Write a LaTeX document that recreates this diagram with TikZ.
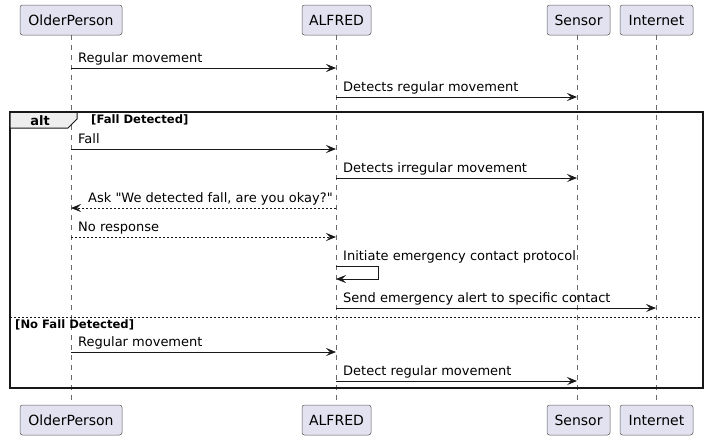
\documentclass[tikz,border=0pt]{standalone}
\usepackage{fontspec}
\setmainfont[Ligatures=TeXOff]{DejaVu Sans}
\usetikzlibrary{arrows.meta}
\definecolor{partfill}{HTML}{E2E2F0}
\definecolor{ink}{HTML}{181818}
\definecolor{partline}{HTML}{5A5A5A}
\definecolor{lifeline}{HTML}{6A6A6A}
\definecolor{tabfill}{HTML}{EEEEEE}
\tikzset{
  part/.style={draw=partline, line width=0.5pt, fill=partfill, rounded corners=2.5pt, minimum height=30pt, inner sep=0pt, font=\fontsize{14}{16}\selectfont, text=black},
  life/.style={draw=lifeline, line width=0.5pt, dash pattern=on 5pt off 5pt},
  msg/.style={draw=ink, line width=0.8pt, -{Stealth[length=10pt,width=8pt,inset=4pt]}},
  rmsg/.style={msg, dash pattern=on 2pt off 2pt},
  lbl/.style={anchor=base west, inner sep=0pt, font=\fontsize{13}{15}\selectfont, text=black},
  glbl/.style={anchor=base west, inner sep=0pt, font=\bfseries\fontsize{11.6}{13}\selectfont, text=black},
}
\begin{document}
\begin{tikzpicture}[x=1pt,y=-1pt]
\useasboundingbox (0,0) rectangle (709,440);
\fill[white] (0,0) rectangle (709,440);
% participants
\node[part, minimum width=102pt] (opT) at (71,20) {OlderPerson};
\node[part, minimum width=69pt] (alT) at (336.5,20) {ALFRED};
\node[part, minimum width=63pt] (seT) at (578.5,20) {Sensor};
\node[part, minimum width=73pt] (inT) at (656.5,20) {Internet};
\node[part, minimum width=102pt] (opB) at (71,420) {OlderPerson};
\node[part, minimum width=69pt] (alB) at (336.5,420) {ALFRED};
\node[part, minimum width=63pt] (seB) at (578.5,420) {Sensor};
\node[part, minimum width=73pt] (inB) at (656.5,420) {Internet};
% lifelines
\draw[life] (opT.south -| 71,0) -- (opB.north -| 71,0);
\draw[life] (alT.south -| 336,0) -- (alB.north -| 336,0);
\draw[life] (seT.south -| 577,0) -- (seB.north -| 577,0);
\draw[life] (inT.south -| 656,0) -- (inB.north -| 656,0);
% message anchor coordinates
\coordinate (op1) at (71,68);  \coordinate (al1) at (336,68);
\coordinate (al2) at (336,97); \coordinate (se2) at (577,97);
\coordinate (op3) at (71,149); \coordinate (al3) at (336,149);
\coordinate (al4) at (336,178); \coordinate (se4) at (577,178);
\coordinate (al5) at (336,208); \coordinate (op5) at (71,208);
\coordinate (op6) at (71,237); \coordinate (al6) at (336,237);
\coordinate (al7a) at (336,266); \coordinate (al7b) at (336,279);
\coordinate (al8) at (336,308); \coordinate (in8) at (656,308);
\coordinate (op9) at (71,352); \coordinate (al9) at (336,352);
\coordinate (al10) at (336,381); \coordinate (se10) at (577,381);
% frame
\draw[ink, line width=1.5pt] (10,112) rectangle (703,388);
\draw[ink, line width=1pt, fill=tabfill] (10,112) -- (77,112) -- (77,119) -- (68,128) -- (10,128) -- cycle;
\draw[ink, line width=1.5pt] (10,112) -- (77,112);
\node[anchor=base, inner sep=0pt, font=\bfseries\fontsize{13}{15}\selectfont] (alt) at (40,125) {alt};
\node[glbl] (g1) at (91,123) {[Fall Detected]};
\draw[ink, line width=0.8pt, dash pattern=on 2pt off 2pt] (10,317) -- (703,317);
\node[glbl] (g2) at (15,328) {[No Fall Detected]};
% messages
\draw[msg] (op1) -- (al1);
\node[lbl] (m1) at (78,62) {Regular movement};
\draw[msg] (al2) -- (se2);
\node[lbl] (m2) at (343,91) {Detects regular movement};
\draw[msg] (op3) -- (al3);
\node[lbl] (m3) at (78,143) {Fall};
\draw[msg] (al4) -- (se4);
\node[lbl] (m4) at (343,172) {Detects irregular movement};
\draw[rmsg] (al5) -- (op5);
\node[lbl] (m5) at (88,202) {Ask "We detected fall, are you okay?"};
\draw[rmsg] (op6) -- (al6);
\node[lbl] (m6) at (78,231) {No response};
\draw[msg] (al7a) -- ++(42,0) |- (al7b);
\node[lbl] (m7) at (343,260) {Initiate emergency contact protocol};
\draw[msg] (al8) -- (in8);
\node[lbl] (m8) at (343,302) {Send emergency alert to specific contact};
\draw[msg] (op9) -- (al9);
\node[lbl] (m9) at (78,346) {Regular movement};
\draw[msg] (al10) -- (se10);
\node[lbl] (m10) at (343,375) {Detect regular movement};
\end{tikzpicture}
\end{document}
